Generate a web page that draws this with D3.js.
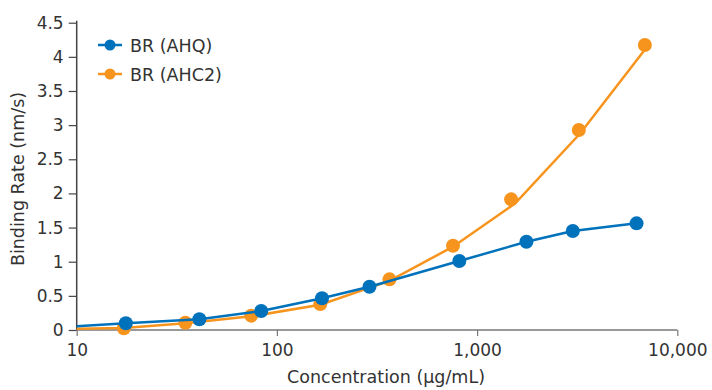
<!DOCTYPE html>
<html lang="en">
	<head>
		<meta charset="utf-8">
		<title>Binding rate</title>
		<script type="text/javascript" src="https://cdn.jsdelivr.net/npm/d3@7"></script>
		<style type="text/css">
			body { margin: 0; background: white; }
			text { font-family: "DejaVu Sans", sans-serif; fill: #333; }
		</style>
	</head>
	<body>
		<script type="text/javascript">

			//Width and height
			var w = 712;
			var h = 390;

			//Series names and colours
			var seriesNames = ["BR (AHQ)", "BR (AHC2)"];
			var colors = ["#0072bc", "#f7941d"];

			//Marker data (concentration, rate)
			var ahqConc = [17.6, 41, 83.5, 168, 290, 815, 1764, 3006, 6259];
			var ahqRate = [0.098, 0.157, 0.278, 0.464, 0.634, 1.01, 1.293, 1.449, 1.562];

			var ahc2Conc = [17.2, 34.9, 74.4, 164.7, 365, 758, 1479, 3221, 6887];
			var ahc2Rate = [0.025, 0.107, 0.21, 0.38, 0.742, 1.234, 1.913, 2.928, 4.173];

			//Line data (fitted curve)
			var ahqLineConc = [10, 17.6, 41, 83.5, 168, 290, 815, 1764, 3006, 6259];
			var ahqLineRate = [0.055, 0.098, 0.157, 0.278, 0.464, 0.634, 1.01, 1.293, 1.449, 1.562];

			var ahc2LineConc = [10, 17.2, 34.9, 74.4, 164.7, 365, 758, 1551, 3285, 6863];
			var ahc2LineRate = [0.02, 0.03, 0.1, 0.2, 0.37, 0.72, 1.22, 1.855, 2.884, 4.10];

			//Tick labels
			var xTicks = [10, 100, 1000, 10000];
			var yTicks = [0, 0.5, 1, 1.5, 2, 2.5, 3, 3.5, 4, 4.5];

			var svg = d3.select("body")
						.append("svg")
						.attr("width", w)
						.attr("height", h);

			var xScale = d3.scaleLog()
							.domain([10, 10000])
							.range([76.7, 677.3]);

			var yScale = d3.scaleLinear()
							.domain([0, 4.5])
							.range([330, 22.7]);

			var xAxis = d3.axisBottom(xScale)
							.tickValues(xTicks)
							.tickSize(6)
							.tickPadding(8)
							.tickFormat(d3.format(",d"));

			var yAxis = d3.axisLeft(yScale)
							.tickValues(yTicks)
							.tickSize(8)
							.tickPadding(5)
							.tickFormat(function(d) { return d; });

			//Y axis
			var gy = svg.append("g")
				.attr("transform", "translate(" + xScale(10) + ",0)")
				.call(yAxis);
			gy.select(".domain").attr("stroke", "#444").attr("stroke-width", 1.5)
				.attr("d", "M0," + (yScale(4.5) - 2) + "V" + yScale(0));
			gy.selectAll(".tick line").attr("stroke", "#444").attr("stroke-width", 1.2);
			gy.selectAll(".tick text").style("font-size", "17px").attr("fill", "#333");

			//X axis
			var gx = svg.append("g")
				.attr("transform", "translate(0," + yScale(0) + ")")
				.call(xAxis);
			gx.select(".domain").attr("stroke", "#777").attr("stroke-width", 1.5)
				.attr("d", "M" + xScale(10) + ",0H" + xScale(10000));
			gx.selectAll(".tick line").attr("stroke", "#777").attr("stroke-width", 1.2);
			gx.selectAll(".tick text").style("font-size", "17px").attr("fill", "#333");

			//Axis titles
			svg.append("text")
				.text("Concentration (µg/mL)")
				.attr("x", 386)
				.attr("y", 383)
				.attr("text-anchor", "middle")
				.style("font-size", "17.5px");

			svg.append("text")
				.text("Binding Rate (nm/s)")
				.attr("transform", "translate(24,179) rotate(-90)")
				.attr("text-anchor", "middle")
				.style("font-size", "17.5px");

			var lineGenerator = d3.line()
				.x(function(d) { return xScale(d[0]); })
				.y(function(d) { return yScale(d[1]); });

			var series = [
				{ lx: ahc2LineConc, ly: ahc2LineRate, mx: ahc2Conc, my: ahc2Rate, color: colors[1] },
				{ lx: ahqLineConc, ly: ahqLineRate, mx: ahqConc, my: ahqRate, color: colors[0] }
			];

			series.forEach(function(s) {
				var linePts = s.lx.map(function(x, i) { return [x, s.ly[i]]; });
				var markPts = s.mx.map(function(x, i) { return [x, s.my[i]]; });

				svg.append("path")
					.attr("d", lineGenerator(linePts))
					.attr("fill", "none")
					.attr("stroke", s.color)
					.attr("stroke-width", 2.5);

				svg.append("g")
					.selectAll("circle")
					.data(markPts)
					.enter()
					.append("circle")
					.attr("cx", function(d) { return xScale(d[0]); })
					.attr("cy", function(d) { return yScale(d[1]); })
					.attr("r", 7)
					.attr("fill", s.color);
			});

			//Legend
			var legend = svg.append("g")
				.attr("transform", "translate(98,45)");

			legend.selectAll("g")
				.data(seriesNames)
				.enter()
				.append("g")
				.attr("transform", function(d, i) { return "translate(0," + (i * 29) + ")"; })
				.each(function(d, i) {
					var g = d3.select(this);
					g.append("line")
						.attr("x1", 0).attr("x2", 24)
						.attr("y1", 0).attr("y2", 0)
						.attr("stroke", colors[i])
						.attr("stroke-width", 2.5);
					g.append("circle")
						.attr("cx", 12).attr("cy", 0)
						.attr("r", 5.5)
						.attr("fill", colors[i]);
					g.append("text")
						.text(d)
						.attr("x", 32)
						.attr("y", 6.5)
						.style("font-size", "17.5px");
				});

		</script>
	</body>
</html>
